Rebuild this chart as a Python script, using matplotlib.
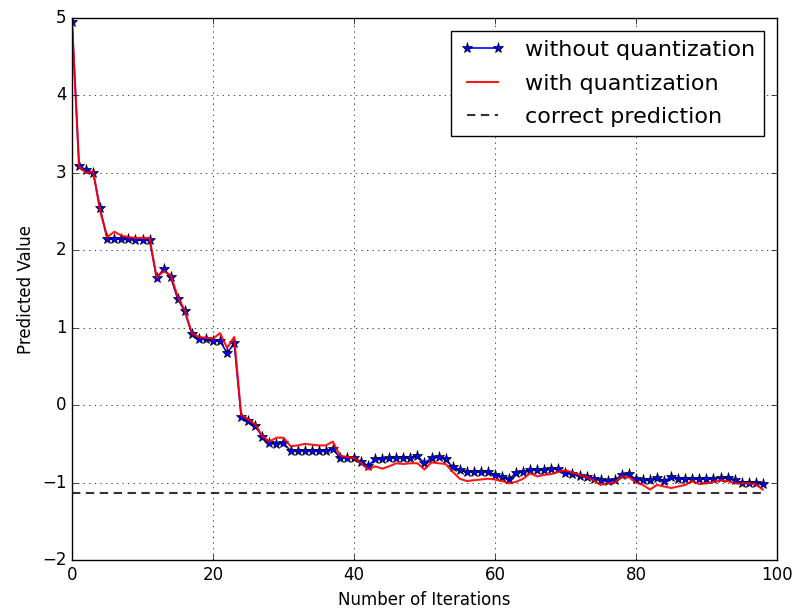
import matplotlib
matplotlib.use("Agg")
import matplotlib.pyplot as plt
import numpy as np

# predicted value per iteration
without_quant = [
    4.95, 3.09, 3.04, 3.00, 2.54, 2.14, 2.15, 2.14, 2.14, 2.13,
    2.13, 2.13, 1.64, 1.76, 1.65, 1.37, 1.21, 0.92, 0.85, 0.85,
    0.83, 0.83, 0.67, 0.80, -0.15, -0.20, -0.27, -0.41, -0.49, -0.50,
    -0.49, -0.59, -0.59, -0.59, -0.59, -0.59, -0.59, -0.56, -0.68, -0.68,
    -0.68, -0.73, -0.78, -0.70, -0.70, -0.68, -0.68, -0.68, -0.68, -0.66,
    -0.75, -0.68, -0.67, -0.70, -0.80, -0.84, -0.86, -0.86, -0.86, -0.86,
    -0.90, -0.93, -0.96, -0.87, -0.86, -0.84, -0.84, -0.84, -0.82, -0.83,
    -0.88, -0.89, -0.92, -0.93, -0.95, -0.97, -0.98, -0.97, -0.90, -0.89,
    -0.96, -0.97, -0.97, -0.94, -0.98, -0.93, -0.95, -0.95, -0.95, -0.95,
    -0.95, -0.95, -0.94, -0.94, -0.97, -1.00, -1.00, -1.00, -1.02,
]
with_quant = [
    4.95, 3.08, 3.00, 3.02, 2.50, 2.17, 2.24, 2.19, 2.17, 2.16,
    2.16, 2.16, 1.65, 1.73, 1.68, 1.40, 1.22, 0.93, 0.88, 0.87,
    0.86, 0.93, 0.74, 0.88, -0.13, -0.18, -0.25, -0.40, -0.47, -0.42,
    -0.42, -0.53, -0.52, -0.50, -0.51, -0.52, -0.52, -0.47, -0.65, -0.67,
    -0.68, -0.75, -0.83, -0.79, -0.82, -0.79, -0.75, -0.76, -0.75, -0.75,
    -0.83, -0.74, -0.75, -0.76, -0.86, -0.95, -0.98, -0.97, -0.96, -0.95,
    -0.96, -0.98, -1.01, -0.99, -0.95, -0.88, -0.92, -0.90, -0.89, -0.86,
    -0.84, -0.87, -0.90, -0.93, -0.97, -1.03, -1.01, -1.00, -0.92, -0.93,
    -1.00, -1.03, -1.09, -1.03, -1.05, -1.07, -1.05, -1.03, -0.98, -1.02,
    -1.01, -0.99, -0.97, -0.98, -1.01, -1.01, -1.01, -1.02, -1.09,
]
correct_value = -1.13
iterations = np.arange(len(without_quant))

plt.style.use("classic")
plt.rcParams["figure.facecolor"] = "white"
plt.rcParams["savefig.facecolor"] = "white"

fig = plt.figure(figsize=(7.96, 6.15), dpi=100)
ax = fig.add_axes([0.0905, 0.0894, 0.8855, 0.8813])

ax.plot(iterations, without_quant, "b-*", markersize=8, linewidth=1.2,
        label="without quantization")
ax.plot(iterations, with_quant, "r-", linewidth=1.5, alpha=0.9,
        label="with quantization")
ax.plot(iterations, [correct_value] * len(iterations), "--", color="0.2",
        linewidth=1.5, dashes=(6, 4), label="correct prediction")

ax.set_xlim(0, 100)
ax.set_ylim(-2, 5)
ax.grid(True)
ax.set_xlabel("Number of Iterations", fontsize=12)
ax.set_ylabel("Predicted Value", fontsize=12)
ax.tick_params(labelsize=12)
ax.legend(loc="upper right", fontsize=16, numpoints=2, labelspacing=0.6,
          handletextpad=0.9, borderaxespad=0.6)

fig.savefig("out.png", dpi=100)
